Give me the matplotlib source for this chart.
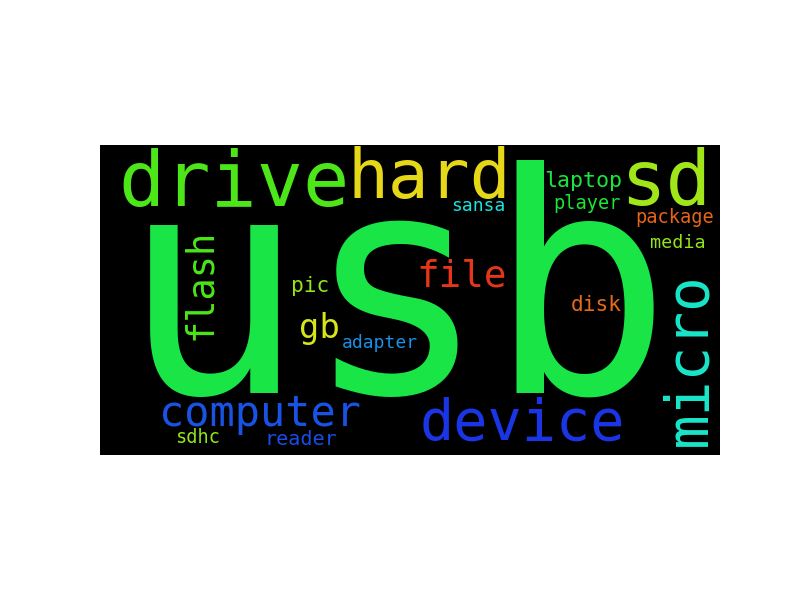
"""
Word cloud of product-review keywords (usb storage), redrawn as text.
"""

import colorsys

import matplotlib
matplotlib.use("Agg")
import matplotlib.pyplot as plt

# ── data ──────────────────────────────────────────────────────────────────────

words = ["usb", "drive", "hard", "sd", "micro", "device", "computer", "file",
         "flash", "gb", "laptop", "disk", "pic", "reader", "player", "package",
         "sdhc", "media", "sansa", "adapter"]

# relative word weight (largest word = 1.0)
weights = [1.0, 0.251, 0.222, 0.248, 0.189, 0.186, 0.137, 0.123,
           0.121, 0.111, 0.071, 0.069, 0.069, 0.066, 0.061, 0.061,
           0.061, 0.060, 0.059, 0.059]

# hue (degrees) of each word, hsl(hue, 80%, 50%) like wordcloud's random colours
hues = [133, 105, 56, 80, 172, 232, 223, 8,
        105, 65, 130, 24, 85, 225, 128, 22,
        85, 85, 178, 205]

# ── layout (canvas is 400 x 200 px, y downwards) ─────────────────────────────
# (x centre of word, baseline y, vertical?)  vertical words: baseline x, centre y

layout = {
    "usb":      (191.5, 160.0, False),
    "drive":    (86.5, 39.4, False),
    "hard":     (212.3, 34.2, False),
    "sd":       (364.8, 38.7, False),
    "micro":    (390.5, 138.0, True),
    "device":   (272.6, 190.3, False),
    "computer": (103.5, 181.3, False),
    "file":     (233.2, 91.4, False),
    "flash":    (71.5, 90.0, True),
    "gb":       (141.3, 124.7, False),
    "laptop":   (311.6, 27.4, False),
    "disk":     (320.0, 106.9, False),
    "pic":      (135.8, 95.0, False),
    "reader":   (129.4, 193.5, False),
    "player":   (314.2, 41.3, False),
    "package":  (370.6, 50.5, False),
    "sdhc":     (62.9, 192.1, False),
    "media":    (372.9, 66.3, False),
    "sansa":    (243.9, 42.4, False),
    "adapter":  (180.3, 130.8, False),
}

MAX_FONT = 220.0   # points, for weight 1.0


def hsl_color(h):
    r, g, b = colorsys.hls_to_rgb(h / 360.0, 0.5, 0.8)
    return (r, g, b)


fig = plt.figure(figsize=(8, 6), dpi=100)
ax = fig.add_axes([0.125, 145 / 600, 0.775, 310 / 600])
ax.set_facecolor("black")
ax.set_xlim(0, 400)
ax.set_ylim(200, 0)
ax.set_xticks([])
ax.set_yticks([])
for sp in ax.spines.values():
    sp.set_visible(False)

for word, w, h in zip(words, weights, hues):
    x, y, vertical = layout[word]
    ax.text(x, y, word,
            fontsize=w * MAX_FONT,
            family="DejaVu Sans Mono",
            color=hsl_color(h),
            ha="center", va="baseline",
            rotation=90 if vertical else 0,
            rotation_mode="anchor")

fig.savefig("out.png", dpi=100)
